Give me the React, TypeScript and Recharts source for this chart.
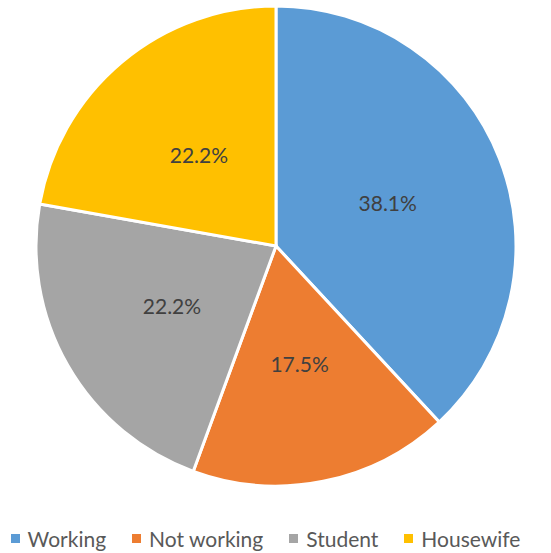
import React from 'react';
import { PieChart, Pie, Cell, Legend } from 'recharts';

const categories = ['Working', 'Not working', 'Student', 'Housewife'];
const shares = [38.1, 17.5, 22.2, 22.2];
const sliceColors = ['#5B9BD5', '#ED7D31', '#A5A5A5', '#FFC000'];

const data = categories.map((name, i) => ({ name, value: shares[i] }));

const RADIAN = Math.PI / 180;

// label sits halfway out along each slice, like Excel's centred data labels
const renderLabel = ({ cx, cy, midAngle, outerRadius, value }: any) => {
  const r = outerRadius * 0.5;
  const x = cx + r * Math.cos(-midAngle * RADIAN);
  const y = cy + r * Math.sin(-midAngle * RADIAN);
  return (
    <text
      x={x}
      y={y}
      fill="#404040"
      fontSize={21}
      fontFamily="Lato, sans-serif"
      textAnchor="middle"
      dominantBaseline="central"
    >
      {value.toFixed(1)}%
    </text>
  );
};

const CustomLegend = () => (
  <div
    style={{
      display: 'flex',
      justifyContent: 'center',
      gap: 26,
      fontFamily: 'Lato, sans-serif',
      fontSize: 21,
      color: '#595959',
    }}
  >
    {categories.map((name, i) => (
      <div key={name} style={{ display: 'flex', alignItems: 'center', gap: 8 }}>
        <div style={{ width: 9, height: 9, backgroundColor: sliceColors[i] }} />
        <span>{name}</span>
      </div>
    ))}
  </div>
);

export default function App() {
  return (
    <div style={{ position: 'absolute', left: 0, top: 0, background: '#fff' }}>
      <PieChart width={551} height={553} margin={{ top: 0, right: 0, bottom: 0, left: 0 }}>
        <Pie
          data={data}
          dataKey="value"
          nameKey="name"
          cx={276}
          cy={246}
          outerRadius={240}
          startAngle={90}
          endAngle={-270}
          stroke="#ffffff"
          strokeWidth={3}
          label={renderLabel}
          labelLine={false}
          isAnimationActive={false}
        >
          {data.map((entry, i) => (
            <Cell key={entry.name} fill={sliceColors[i]} />
          ))}
        </Pie>
        <Legend
          verticalAlign="bottom"
          wrapperStyle={{ bottom: 2, left: -10, width: 551 }}
          content={<CustomLegend />}
        />
      </PieChart>
    </div>
  );
}
